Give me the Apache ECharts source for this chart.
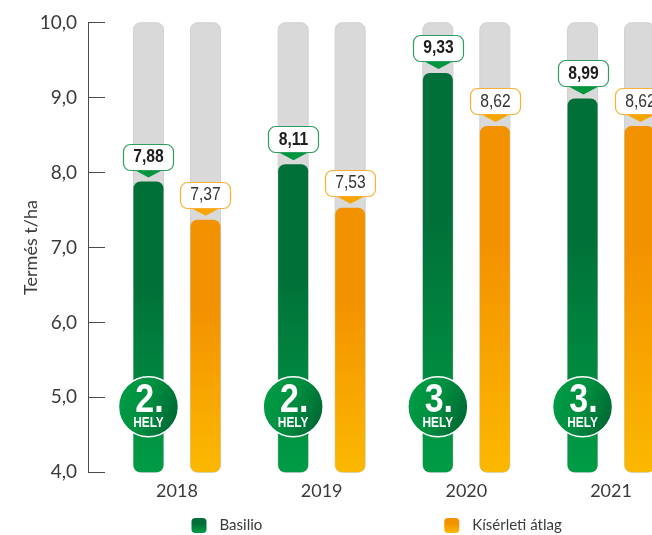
<!DOCTYPE html>
<html><head><meta charset="utf-8">
<style>html,body{margin:0;padding:0;background:#fff;overflow:hidden}#c{width:652px;height:535px}</style>
<script src="https://cdn.jsdelivr.net/npm/echarts@6/dist/echarts.min.js"></script>
</head><body><div id="c"></div>
<script>
const years = ['2018','2019','2020','2021'];
const basilio = [7.88,8.11,9.33,8.99];
const atlag = [7.37,7.53,8.62,8.62];
const ranks = ['2.','2.','3.','3.'];
const rankWord = 'HELY';
const seriesNames = ['Basilio','Kísérleti átlag'];
const yTicks = {min:4,max:10,interval:1};
const axisTitle = 'Termés t/ha';
const badgeLevel = 4.875;

const FONT = 'Lato,sans-serif';
const BOLD = '"Liberation Sans",sans-serif';
const INK = '#3a3a3a';
const BAR_W = 30, GAP = 27, OFFSET = (BAR_W+GAP)/2;
const vgrad = (top,bottom)=>new echarts.graphic.LinearGradient(0,0,0,1,[{offset:0,color:top},{offset:.35,color:top},{offset:1,color:bottom}]);
const GREEN = vgrad('#006f38','#009c45');
const ORANGE = vgrad('#f39200','#fbb800');
const fmt = v=>v.toFixed(2).replace('.',',');

const barSeries = (name,data,color)=>({
  type:'bar',name,data,barWidth:BAR_W,barGap:(GAP/BAR_W*100)+'%',
  itemStyle:{color,borderRadius:7},
  showBackground:true,
  backgroundStyle:{color:'#d9d9d9',borderRadius:7,borderColor:'#d0d0d0',borderWidth:1},
  z:2
});
const callout = (data,dx,stroke,fill,bold)=>({
  type:'custom',data:data.map((v,i)=>[i,v]),z:5,silent:true,clip:false,
  encode:{x:0,y:1},
  renderItem:(p,api)=>{
    const c=api.coord([api.value(0),api.value(1)]);
    const x=Math.round(c[0]+dx)+.5, tip=c[1]-4, bot=tip-7, h=27, w=51;
    return {type:'group',children:[
      {type:'polygon',shape:{points:[[x-15,bot-1],[x+15,bot-1],[x,tip]]},style:{fill}},
      {type:'rect',shape:{x:x-w/2+.5,y:Math.round(bot-h)+.5,width:w-1,height:h-1,r:7},style:{fill:'#fff',stroke,lineWidth:1.2}},
      {type:'text',x:x,y:Math.round(bot-h/2)+.5,scaleX:.87,style:{text:fmt(api.value(1)),font:(bold?'bold ':'')+'18px '+BOLD,fill:bold?'#1d1d1b':'#333',align:'center',verticalAlign:'middle'}}
    ]};
  }
});
const badges = {
  type:'custom',data:years.map((y,i)=>[i,badgeLevel,ranks[i]]),z:6,silent:true,clip:false,
  encode:{x:0,y:1},
  renderItem:(p,api)=>{
    const c=api.coord([api.value(0),api.value(1)]);
    const x=c[0]-OFFSET, y=c[1];
    return {type:'group',children:[
      {type:'circle',shape:{cx:x,cy:y,r:30},style:{stroke:'#fff',lineWidth:1.5,fill:new echarts.graphic.LinearGradient(0,.3,1,.7,[{offset:0,color:'#009c45'},{offset:.45,color:'#009040'},{offset:1,color:'#006633'}])}},
      {type:'text',x:x+1,y:y-6,scaleX:.85,style:{text:ranks[p.dataIndex],font:'bold 40px '+BOLD,fill:'#fff',align:'center',verticalAlign:'middle'}},
      {type:'text',x:x,y:y+16,scaleX:.85,style:{text:rankWord,font:'bold 14px '+BOLD,fill:'#fff',align:'center',verticalAlign:'middle'}}
    ]};
  }
};

const chart = echarts.init(document.getElementById('c'),null,{renderer:'canvas'});
chart.setOption({
  animation:false,
  backgroundColor:'#fff',
  grid:{left:104.6,right:-31.4,top:22.7,bottom:62.7,outerBoundsMode:'none'},
  legend:{
    data:seriesNames,left:186.5,top:513,itemWidth:15,itemHeight:15,itemGap:182,
    icon:'roundRect',
    textStyle:{fontFamily:FONT,fontSize:15,color:INK,padding:[7,0,0,8]}
  },
  xAxis:{type:'category',data:years,axisLine:{show:false},axisTick:{show:false},
    axisLabel:{fontFamily:FONT,fontSize:18,color:INK,margin:10}},
  yAxis:{type:'value',min:yTicks.min,max:yTicks.max,interval:yTicks.interval,offset:16.6,
    name:axisTitle,nameLocation:'middle',nameGap:48,nameRotate:90,nameMoveOverlap:false,
    nameTextStyle:{fontFamily:FONT,fontSize:18,color:INK},
    axisLine:{show:true,lineStyle:{color:'#4a4a4a',width:1}},
    axisTick:{show:true,inside:true,length:17,lineStyle:{color:'#4a4a4a',width:1}},
    splitLine:{show:false},
    axisLabel:{fontFamily:FONT,fontSize:19,color:INK,margin:11,formatter:v=>v.toFixed(1).replace('.',',')}},
  series:[
    barSeries(seriesNames[0],basilio,GREEN),
    barSeries(seriesNames[1],atlag,ORANGE),
    callout(basilio,-OFFSET,'#2c9f5f','#009640',true),
    callout(atlag,OFFSET,'#fbb034','#f9a500',false),
    badges
  ]
});
</script></body></html>
